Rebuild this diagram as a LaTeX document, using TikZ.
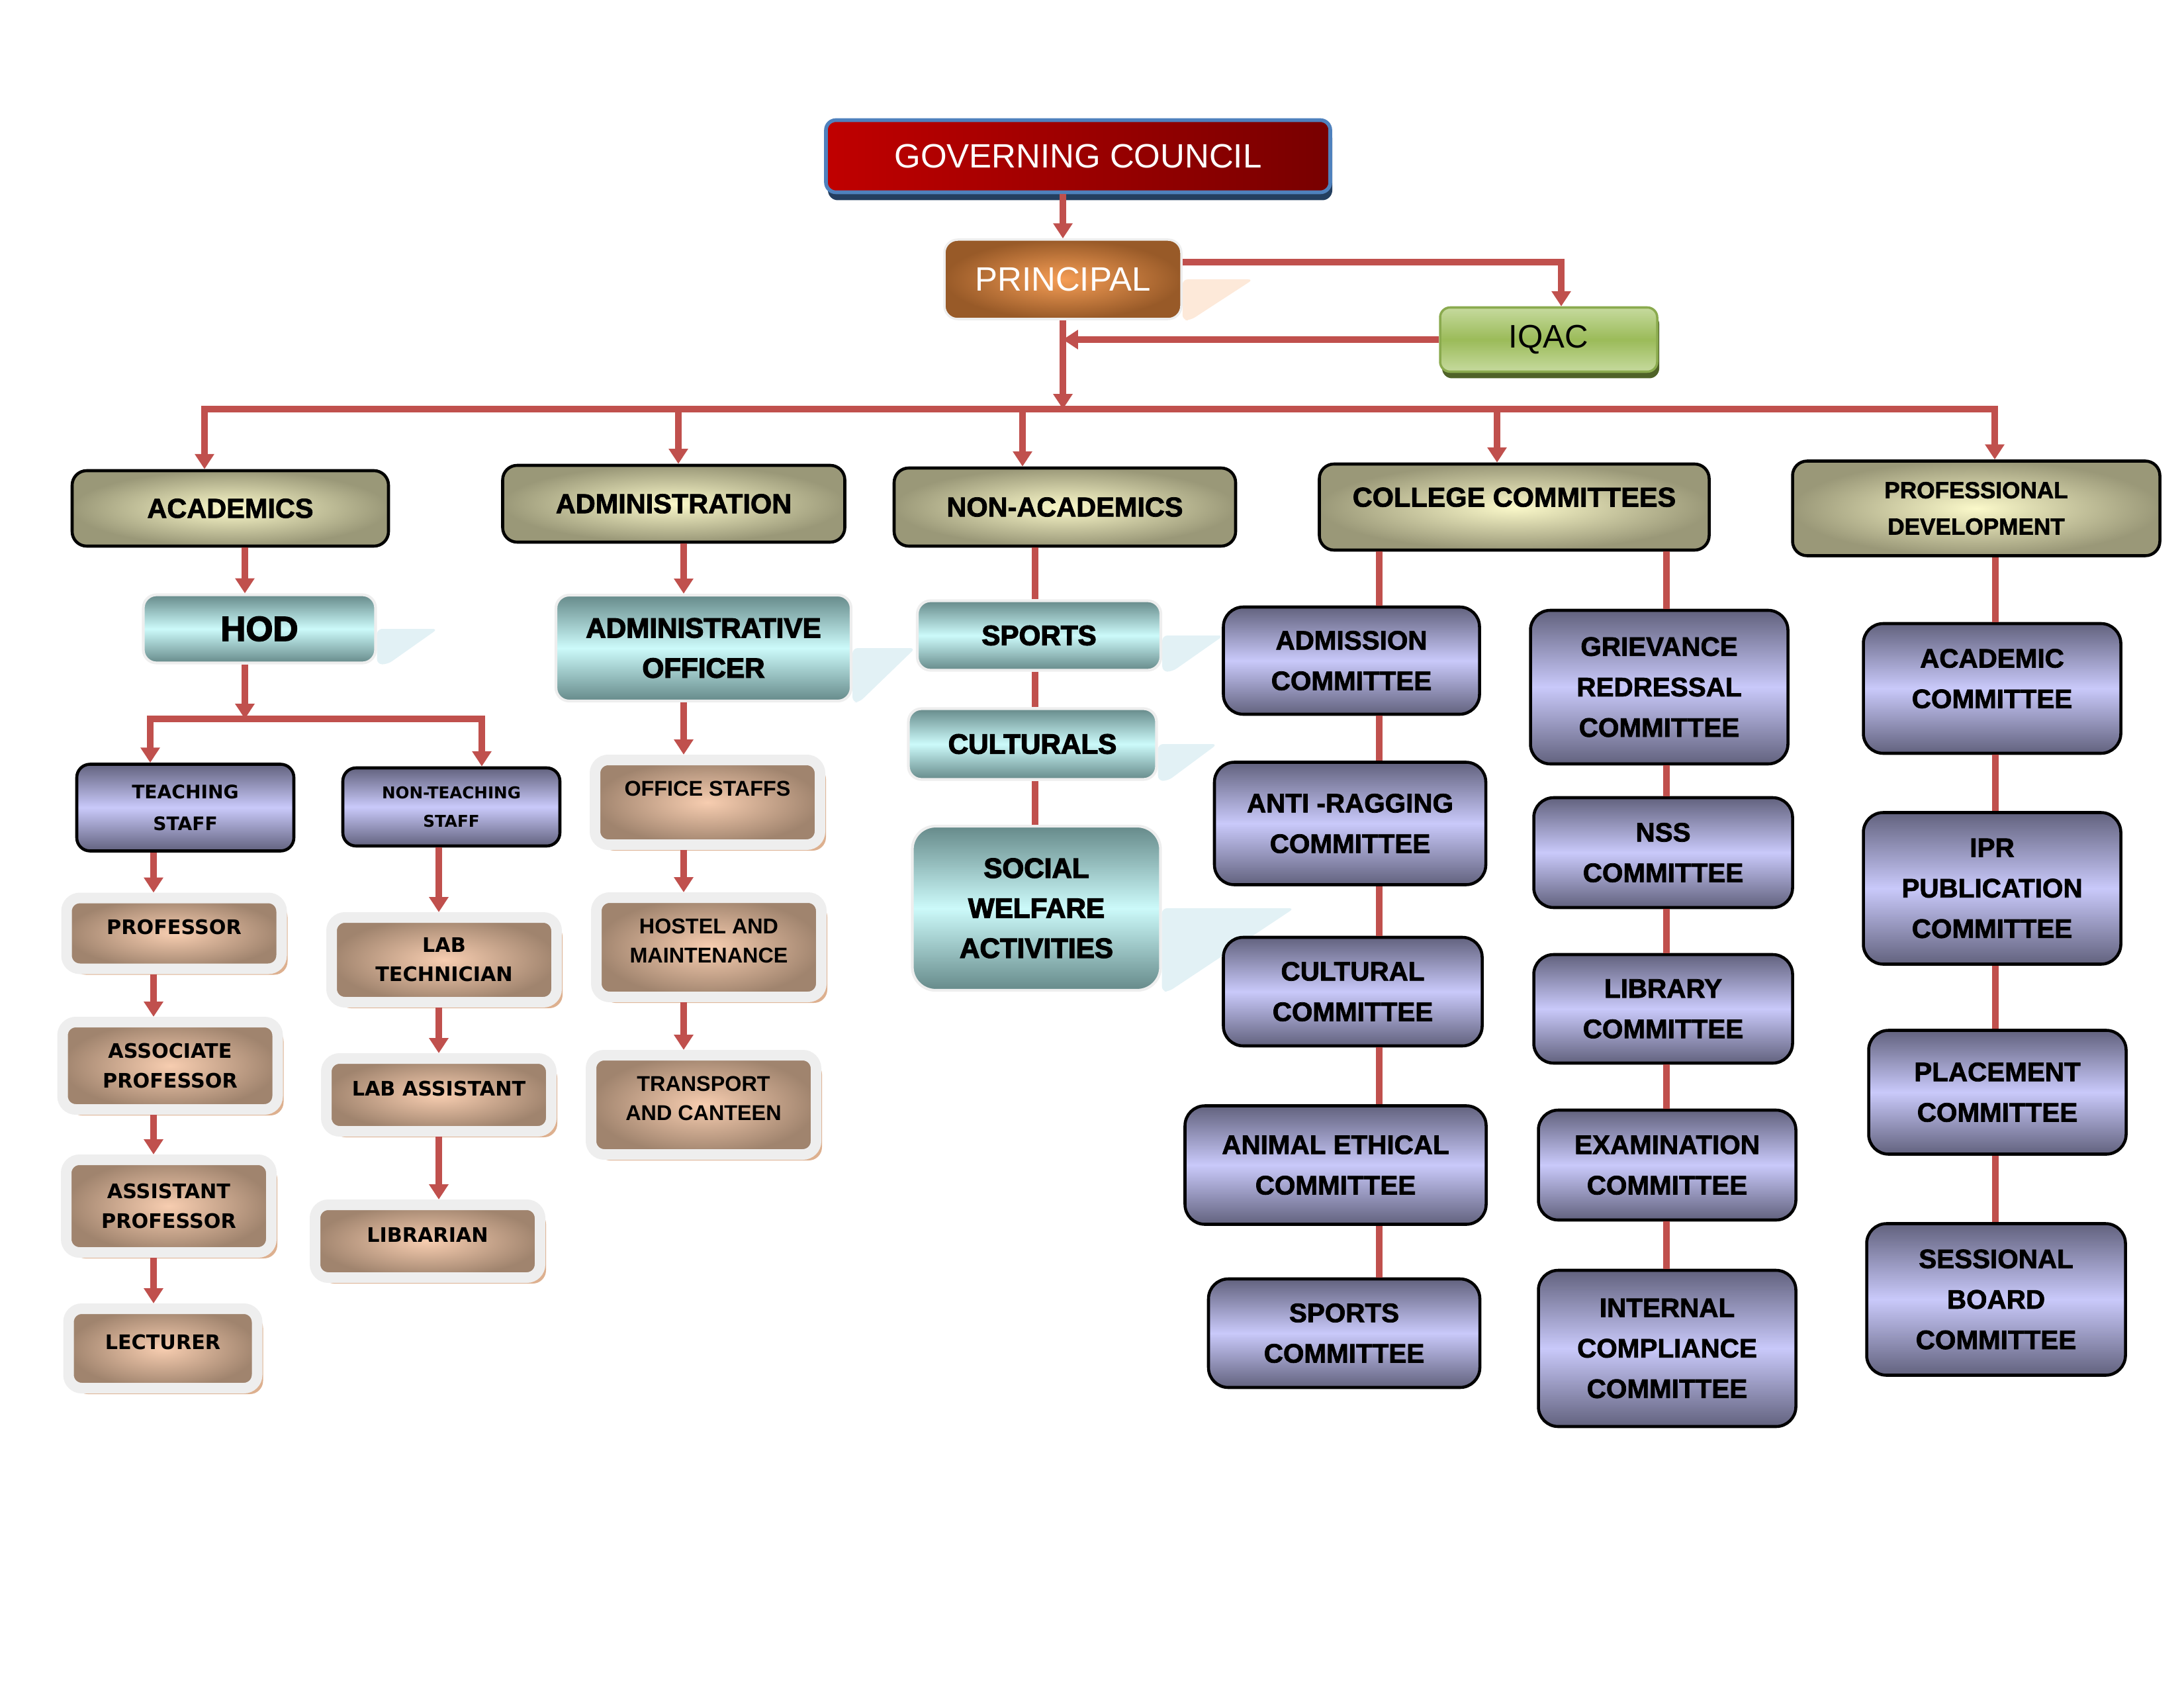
\documentclass[tikz,border=0pt]{standalone}
\usepackage{fontspec}
\setmainfont{Liberation Sans}
\newfontfamily\heavyfont{Liberation Sans}[BoldFeatures={FakeBold=1.8}]
\newfontfamily\blackfont{Liberation Sans}[BoldFeatures={FakeBold=3}]
\newfontfamily\widefont{DejaVu Sans}
\usepackage{xcolor}
\usepackage{tikz}
\usetikzlibrary{shapes.geometric, arrows.meta, positioning, shadows, backgrounds}

\definecolor{linkred}{HTML}{C0504D}
\definecolor{councilA}{HTML}{C00000}
\definecolor{councilB}{HTML}{780000}
\definecolor{counciledge}{HTML}{4F81BD}
\definecolor{councilshade}{HTML}{243F60}
\definecolor{princin}{HTML}{F59D55}
\definecolor{princout}{HTML}{985A28}
\definecolor{princshade}{HTML}{FDE9D9}
\definecolor{iqacmid}{HTML}{9BBB59}
\definecolor{iqacrim}{HTML}{C6DA9E}
\definecolor{iqacedge}{HTML}{8AAA4E}
\definecolor{iqacshade}{HTML}{4F6228}
\definecolor{olivein}{HTML}{FBF9CA}
\definecolor{oliveout}{HTML}{9A9878}
\definecolor{cyanin}{HTML}{CCFAFA}
\definecolor{cyanout}{HTML}{668A8A}
\definecolor{cyanshade}{HTML}{E2F1F5}
\definecolor{lavin}{HTML}{C9C9FA}
\definecolor{lavout}{HTML}{62627E}
\definecolor{brownin}{HTML}{F7CDB0}
\definecolor{brownout}{HTML}{A0846E}
\definecolor{browntan}{HTML}{DDB08F}
\definecolor{glow}{HTML}{EEEEEE}

\begin{document}
\begin{tikzpicture}[
        node distance=0.8cm and 0.8cm,
        council/.style={rectangle, draw=counciledge, line width=1.6pt, rounded corners=0.15cm, left color=councilA, right color=councilB, text=white, minimum width=7.62cm, minimum height=1.09cm, font=\fontsize{14.5}{17}\selectfont, drop shadow={fill=councilshade, shadow xshift=0.03cm, shadow yshift=-0.12cm, opacity=1}},
        chief/.style={rectangle, draw=glow, line width=1pt, rounded corners=0.2cm, inner color=princin, outer color=princout, text=white, minimum width=3.58cm, minimum height=1.2cm, font=\fontsize{14.5}{17}\selectfont},
        quality/.style={rectangle, draw=iqacedge, line width=1pt, rounded corners=0.15cm, top color=iqacrim, bottom color=iqacrim, middle color=iqacmid, minimum width=3.28cm, minimum height=0.97cm, font=\fontsize{14}{17}\selectfont, drop shadow={fill=iqacshade, shadow xshift=0.03cm, shadow yshift=-0.1cm, opacity=1}},
        head/.style={rectangle, draw=black, line width=1.3pt, rounded corners=0.22cm, inner color=olivein, outer color=oliveout, align=center, font=\heavyfont\bfseries\fontsize{11.8}{16}\selectfont},
        cbox/.style={rectangle, draw=glow, line width=1.2pt, rounded corners=0.2cm, top color=cyanout, bottom color=cyanout, middle color=cyanin, align=center, font=\blackfont\bfseries\fontsize{12}{17.2}\selectfont},
        lbox/.style={rectangle, draw=black, line width=1.3pt, rounded corners=0.3cm, top color=lavout, bottom color=lavout, middle color=lavin, align=center, font=\heavyfont\bfseries\fontsize{11.5}{17.4}\selectfont},
        bbox/.style={rectangle, draw=glow, line width=0.16cm, rounded corners=0.2cm, inner color=brownin, outer color=brownout, align=center, drop shadow={fill=browntan, shadow xshift=0.09cm, shadow yshift=-0.09cm, opacity=1}, font=\widefont\bfseries\fontsize{8.6}{12.6}\selectfont},
        skew/.style={fill=cyanshade, rounded corners=0.08cm},
        arrow/.style={line width=2.8pt, draw=linkred, ->, >={Triangle[width=8pt,length=6.5pt]}},
        link/.style={line width=2.8pt, draw=linkred}
        ]
        \useasboundingbox (0,0) rectangle (33,-25.5);

        % Top: council, principal and IQAC
        \node (gc) [council] at (16.29,-2.36) {GOVERNING COUNCIL};
        \node (principal) [chief] at (16.06,-4.22) {PRINCIPAL};
        \node (iqac) [quality] at (23.40,-5.13) {IQAC};

        % Second row: the five wings
        \node (acad) [head, minimum width=4.78cm, minimum height=1.14cm] at (3.48,-7.68) {ACADEMICS};
        \node (admin) [head, minimum width=5.17cm, minimum height=1.16cm] at (10.18,-7.61) {ADMINISTRATION};
        \node (nonac) [head, minimum width=5.16cm, minimum height=1.18cm] at (16.09,-7.66) {NON-ACADEMICS};
        \node (coll) [head, minimum width=5.89cm, minimum height=1.30cm, text depth=0.3cm] at (22.88,-7.66) {COLLEGE COMMITTEES};
        \node (profdev) [head, minimum width=5.55cm, minimum height=1.43cm, font=\heavyfont\bfseries\fontsize{10}{15.6}\selectfont] at (29.86,-7.68) {PROFESSIONAL\\DEVELOPMENT};

        % Academics: HOD and staff
        \node (hod) [cbox, minimum width=3.51cm, minimum height=1.03cm, font=\blackfont\bfseries\fontsize{15}{18}\selectfont] at (3.92,-9.50) {HOD};
        \node (teach) [lbox, rounded corners=0.2cm, minimum width=3.28cm, minimum height=1.31cm, font=\widefont\bfseries\fontsize{8}{13.7}\selectfont] at (2.80,-12.20) {TEACHING\\STAFF};
        \node (nonteach) [lbox, rounded corners=0.2cm, minimum width=3.28cm, minimum height=1.18cm, font=\widefont\bfseries\fontsize{7}{12}\selectfont] at (6.82,-12.19) {NON-TEACHING\\STAFF};

        \node (profr) [bbox, minimum width=3.25cm, minimum height=1.07cm, text depth=0.2cm] at (2.63,-14.10) {PROFESSOR};
        \node (assoc) [bbox, minimum width=3.25cm, minimum height=1.32cm] at (2.57,-16.10) {ASSOCIATE\\PROFESSOR};
        \node (assist) [bbox, minimum width=3.10cm, minimum height=1.40cm] at (2.55,-18.22) {ASSISTANT\\PROFESSOR};
        \node (lect) [bbox, minimum width=2.85cm, minimum height=1.20cm, text depth=0.2cm] at (2.46,-20.37) {LECTURER};

        \node (labtech) [bbox, minimum width=3.40cm, minimum height=1.28cm] at (6.71,-14.50) {LAB\\TECHNICIAN};
        \node (labasst) [bbox, minimum width=3.40cm, minimum height=1.10cm, text depth=0.2cm] at (6.63,-16.54) {LAB ASSISTANT};
        \node (libr) [bbox, minimum width=3.40cm, minimum height=1.10cm, text depth=0.2cm] at (6.46,-18.75) {LIBRARIAN};

        % Administration
        \node (adoff) [cbox, minimum width=4.46cm, minimum height=1.60cm] at (10.63,-9.79) {ADMINISTRATIVE\\OFFICER};
        \node (office) [bbox, font=\bfseries\fontsize{9.2}{12.6}\selectfont, minimum width=3.40cm, minimum height=1.28cm, text depth=0.42cm] at (10.69,-12.12) {OFFICE STAFFS};
        \node (hostel) [bbox, font=\bfseries\fontsize{9.2}{12.6}\selectfont, minimum width=3.40cm, minimum height=1.50cm, text depth=0.2cm] at (10.71,-14.31) {HOSTEL AND\\MAINTENANCE};
        \node (transp) [bbox, font=\bfseries\fontsize{9.2}{12.6}\selectfont, minimum width=3.40cm, minimum height=1.50cm, text depth=0.2cm] at (10.63,-16.69) {TRANSPORT\\AND CANTEEN};

        % Non-academics
        \node (sports) [cbox, minimum width=3.68cm, minimum height=1.05cm] at (15.70,-9.60) {SPORTS};
        \node (cults) [cbox, minimum width=3.75cm, minimum height=1.07cm] at (15.60,-11.24) {CULTURALS};
        \node (social) [cbox, rounded corners=0.35cm, minimum width=3.75cm, minimum height=2.48cm] at (15.66,-13.72) {SOCIAL\\WELFARE\\ACTIVITIES};

        % College committees, left column
        \node (adm) [lbox, minimum width=3.87cm, minimum height=1.62cm] at (20.42,-9.98) {ADMISSION\\COMMITTEE};
        \node (anti) [lbox, minimum width=4.10cm, minimum height=1.85cm] at (20.40,-12.44) {ANTI -RAGGING\\COMMITTEE};
        \node (culc) [lbox, minimum width=3.91cm, minimum height=1.64cm] at (20.44,-14.98) {CULTURAL\\COMMITTEE};
        \node (animal) [lbox, minimum width=4.55cm, minimum height=1.79cm] at (20.18,-17.60) {ANIMAL ETHICAL\\COMMITTEE};
        \node (sportc) [lbox, minimum width=4.10cm, minimum height=1.64cm] at (20.31,-20.14) {SPORTS\\COMMITTEE};

        % College committees, right column
        \node (griev) [lbox, minimum width=3.89cm, minimum height=2.32cm] at (25.07,-10.38) {GRIEVANCE\\REDRESSAL\\COMMITTEE};
        \node (nss) [lbox, minimum width=3.91cm, minimum height=1.66cm] at (25.13,-12.88) {NSS\\COMMITTEE};
        \node (libc) [lbox, minimum width=3.91cm, minimum height=1.64cm] at (25.13,-15.24) {LIBRARY\\COMMITTEE};
        \node (exam) [lbox, minimum width=3.89cm, minimum height=1.66cm] at (25.19,-17.60) {EXAMINATION\\COMMITTEE};
        \node (intc) [lbox, minimum width=3.89cm, minimum height=2.36cm] at (25.19,-20.37) {INTERNAL\\COMPLIANCE\\COMMITTEE};

        % Professional development
        \node (acadc) [lbox, minimum width=3.89cm, minimum height=1.96cm, text depth=0.3cm] at (30.10,-10.40) {ACADEMIC\\COMMITTEE};
        \node (ipr) [lbox, minimum width=3.89cm, minimum height=2.29cm] at (30.10,-13.42) {IPR\\PUBLICATION\\COMMITTEE};
        \node (place) [lbox, minimum width=3.89cm, minimum height=1.87cm] at (30.18,-16.50) {PLACEMENT\\COMMITTEE};
        \node (sess) [lbox, minimum width=3.91cm, minimum height=2.29cm] at (30.16,-19.63) {SESSIONAL\\BOARD\\COMMITTEE};

        % Connectors at the top
        \coordinate (bus) at (15.97,-6.18);
        \draw [arrow] (gc.south -| principal.north) -- (principal.north);
        \draw [arrow] ([yshift=0.26cm]principal.east) -| ([xshift=0.19cm]iqac.north);
        \draw [arrow] (iqac.west) -- (iqac.west -| principal.south);
        \draw [arrow] (principal.south) -- (principal.south |- bus);

        % Bus to the five wings
        \coordinate (dAcad) at (3.09,-6.18);
        \coordinate (dAdmin) at (10.25,-6.18);
        \coordinate (dNonac) at (15.45,-6.18);
        \coordinate (dColl) at (22.62,-6.18);
        \coordinate (dProf) at (30.14,-6.18);
        \draw [link, line cap=rect] (dAcad) -- (dProf);
        \draw [arrow] (dAcad) -- (dAcad |- acad.north);
        \draw [arrow] (dAdmin) -- (dAdmin |- admin.north);
        \draw [arrow] (dNonac) -- (dNonac |- nonac.north);
        \draw [arrow] (dColl) -- (dColl |- coll.north);
        \draw [arrow] (dProf) -- (dProf |- profdev.north);

        % Academics connectors
        \coordinate (hcol) at (3.70,-9);
        \coordinate (brL) at (2.27,-10.86);
        \coordinate (brR) at (7.28,-10.86);
        \draw [arrow] (hcol |- acad.south) -- (hcol |- hod.north);
        \draw [arrow] (hcol |- hod.south) -- (hcol |- brL);
        \draw [link, line cap=rect] (brL) -- (brR);
        \draw [arrow] (brL) -- (brL |- teach.north);
        \draw [arrow] (brR) -- (brR |- nonteach.north);
        \coordinate (tcol) at (2.32,-13);
        \draw [arrow] (tcol |- teach.south) -- (tcol |- profr.north);
        \draw [arrow] (tcol |- profr.south) -- (tcol |- assoc.north);
        \draw [arrow] (tcol |- assoc.south) -- (tcol |- assist.north);
        \draw [arrow] (tcol |- assist.south) -- (tcol |- lect.north);
        \coordinate (ncol) at (6.63,-13);
        \draw [arrow] (ncol |- nonteach.south) -- (ncol |- labtech.north);
        \draw [arrow] (ncol |- labtech.south) -- (ncol |- labasst.north);
        \draw [arrow] (ncol |- labasst.south) -- (ncol |- libr.north);

        % Administration connectors
        \coordinate (acol) at (10.33,-10);
        \draw [arrow] (acol |- admin.south) -- (acol |- adoff.north);
        \draw [arrow] (acol |- adoff.south) -- (acol |- office.north);
        \draw [arrow] (acol |- office.south) -- (acol |- hostel.north);
        \draw [arrow] (acol |- hostel.south) -- (acol |- transp.north);

        % Non-academics connectors
        \coordinate (scol) at (15.64,-10);
        \draw [link] (scol |- nonac.south) -- (scol |- sports.north);
        \draw [link] (scol |- sports.south) -- (scol |- cults.north);
        \draw [link] (scol |- cults.south) -- (scol |- social.north);

        % College committees connectors
        \coordinate (lcol) at (20.84,-10);
        \draw [link] (lcol |- coll.south) -- (lcol |- adm.north);
        \draw [link] (lcol |- adm.south) -- (lcol |- anti.north);
        \draw [link] (lcol |- anti.south) -- (lcol |- culc.north);
        \draw [link] (lcol |- culc.south) -- (lcol |- animal.north);
        \draw [link] (lcol |- animal.south) -- (lcol |- sportc.north);
        \coordinate (rcol) at (25.18,-10);
        \draw [link] (rcol |- coll.south) -- (rcol |- griev.north);
        \draw [link] (rcol |- griev.south) -- (rcol |- nss.north);
        \draw [link] (rcol |- nss.south) -- (rcol |- libc.north);
        \draw [link] (rcol |- libc.south) -- (rcol |- exam.north);
        \draw [link] (rcol |- exam.south) -- (rcol |- intc.north);

        % Professional development connectors
        \coordinate (pcol) at (30.15,-10);
        \draw [link] (pcol |- profdev.south) -- (pcol |- acadc.north);
        \draw [link] (pcol |- acadc.south) -- (pcol |- ipr.north);
        \draw [link] (pcol |- ipr.south) -- (pcol |- place.north);
        \draw [link] (pcol |- place.south) -- (pcol |- sess.north);

        % Slanted shadows behind the boxes
        \begin{scope}[on background layer]
            \fill [skew, fill=princshade] (principal.east) -- ++(1.07,0) -- ([xshift=0.12cm]principal.south east) -- (principal.south east) -- cycle;
            \fill [skew] (hod.east) -- ++(0.92,0) -- ([xshift=0.16cm]hod.south east) -- (hod.south east) -- cycle;
            \fill [skew] (adoff.east) -- ++(0.95,0) -- ([xshift=0.1cm]adoff.south east) -- (adoff.south east) -- cycle;
            \fill [skew] (sports.east) -- ++(0.93,0) -- ([xshift=0.15cm]sports.south east) -- (sports.south east) -- cycle;
            \fill [skew] (cults.east) -- ++(0.90,0) -- ([xshift=0.15cm]cults.south east) -- (cults.south east) -- cycle;
            \fill [skew] (social.east) -- ++(2.00,0) -- ([xshift=0.1cm]social.south east) -- (social.south east) -- cycle;
        \end{scope}

    \end{tikzpicture}
\end{document}
